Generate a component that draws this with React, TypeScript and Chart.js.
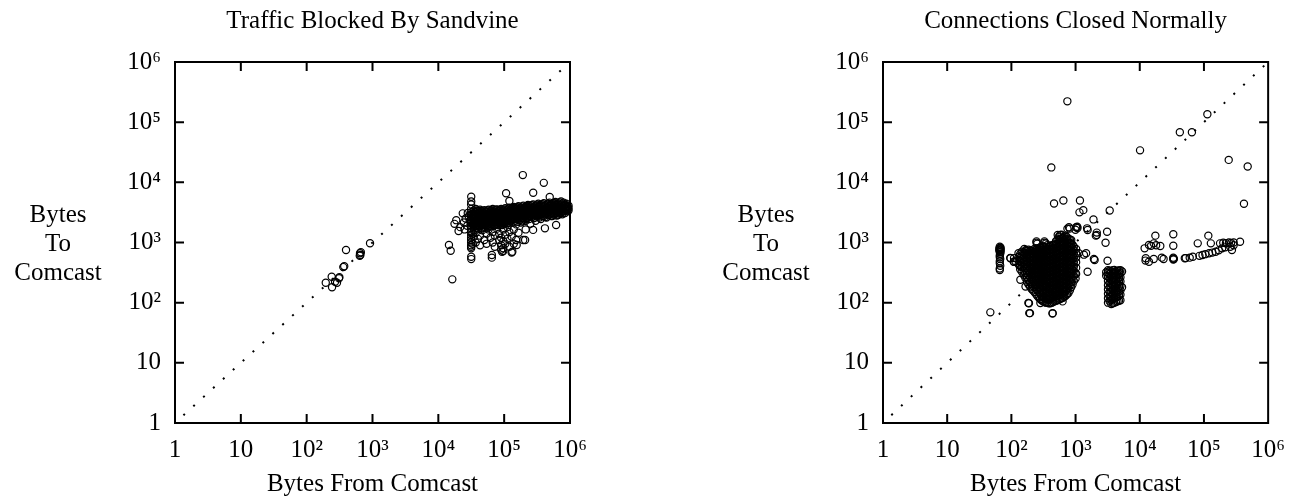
import React, { useEffect, useRef } from 'react';
import { Chart, registerables } from 'chart.js';

Chart.register(...registerables);

// ---------- text ----------
const blockedTitle = 'Traffic Blocked By Sandvine';
const closedTitle = 'Connections Closed Normally';
const xAxisTitle = 'Bytes From Comcast';
const yAxisTitleLines = ['Bytes', 'To', 'Comcast'];

// ---------- axes ----------
const tickValues = [1, 10, 100, 1000, 10000, 100000, 1000000];
const tickLabels = ['1', '10', '10²', '10³', '10⁴', '10⁵', '10⁶'];
const innerTickValues = [10, 100, 1000, 10000, 100000];
const diagonal = [1, 1000000];

type P = [number, number];
type Col = [number, number[]];

// ---------- left panel: Traffic Blocked By Sandvine ----------
const blockedNearDiagonal: P[] = [
  [195, 214], [243, 180], [240, 270], [289, 214], [314, 265], [270, 223], [310, 254],
  [360, 390], [372, 402], [396, 750], [646, 661], [655, 620], [640, 600], [665, 690], [917, 970],
];

const blockedOutliers: P[] = [
  [14500, 910], [15400, 730], [16300, 244], [17600, 2040], [18700, 2350], [20300, 1550],
  [21500, 1800], [23500, 3050], [24500, 2150], [25000, 1650], [26000, 2500], [27500, 1900],
  [28000, 3100], [29000, 2700], [30000, 2300],
  [192000, 13200], [400000, 9800], [276000, 6700], [107000, 6600], [120000, 4900],
  [492000, 5700], [31600, 5760], [31600, 4800], [155000, 910], [133000, 700], [93000, 700],
  [208000, 1100], [65000, 620], [65000, 560], [31600, 580], [31600, 530], [615000, 1950],
  [416000, 1720], [275000, 1620],
];

const blockedBandColumns: Col[] = [
  [31500, [4300, 3600, 3200, 2900, 2600, 2350, 2100, 1900, 1700, 1500, 1330, 1200, 1100, 1000, 900, 850, 800]],
  [33000, [3000, 2500, 2000, 1400, 950]],
  [34500, [3400, 3000, 2700, 2450, 2200, 2000, 1800, 1600, 1250]],
  [36000, [3250, 2850, 2550, 2250, 2050, 1850]],
  [37000, [3600, 3150, 2800, 2550, 2300, 2100, 1900, 1450, 1000]],
  [38500, [3400, 3000, 2700, 2400, 2200, 1950, 1750]],
  [40000, [3300, 2950, 2650, 2400, 2150, 1950, 1700, 1150]],
  [41500, [3150, 2800, 2550, 2300, 2100, 1900]],
  [43000, [3500, 3100, 2750, 2500, 2250, 2050, 1850, 1300, 900]],
  [45000, [3350, 2950, 2650, 2400, 2200, 2000, 1750]],
  [46500, [3250, 2900, 2600, 2350, 2150, 1950, 1600]],
  [48000, [3100, 2800, 2500, 2250, 2050, 1850]],
  [50000, [3450, 3050, 2750, 2450, 2200, 2000, 1750, 1100]],
  [52000, [3300, 2950, 2650, 2350, 2150, 1950]],
  [54000, [3200, 2850, 2550, 2300, 2100, 1900, 1400, 950]],
  [56000, [3400, 3000, 2650, 2400, 2150, 1950, 1750]],
  [58000, [3500, 3100, 2750, 2450, 2200, 2000, 1650]],
  [60000, [3150, 2800, 2500, 2300, 2050, 1900]],
  [62000, [3300, 2900, 2600, 2350, 2150, 1850, 1200]],
  [64500, [3450, 3050, 2700, 2450, 2200, 2000]],
  [67000, [3600, 3150, 2800, 2500, 2250, 2050, 1500, 1000]],
  [69500, [3250, 2900, 2600, 2350, 2150, 1900]],
  [72000, [3400, 3000, 2700, 2400, 2200, 1950, 1300, 850]],
  [75000, [3500, 3100, 2750, 2450, 2250, 2000]],
  [78000, [3550, 3100, 2800, 2500, 2300, 2050, 1700]],
  [81000, [3250, 2900, 2600, 2350, 2100, 1950]],
  [84000, [3350, 2950, 2650, 2400, 2150, 1400, 1100]],
  [87000, [3450, 3050, 2750, 2450, 2250, 2050]],
  [90000, [3600, 3200, 2850, 2550, 2300, 2000, 1200, 900, 760]],
  [93500, [3300, 2950, 2650, 2400, 2150, 1950]],
  [97000, [3400, 3050, 2700, 2450, 2200, 1650, 1050, 800, 720]],
  [100000, [3550, 3150, 2800, 2500, 2250, 2050]],
  [104000, [3700, 3250, 2900, 2600, 2350, 2100, 1350, 950]],
  [108000, [3400, 3000, 2700, 2400, 2200, 2000]],
  [112000, [3500, 3100, 2800, 2500, 2250, 1800, 1150]],
  [116000, [3650, 3250, 2900, 2600, 2350, 2100]],
  [120000, [3800, 3350, 2950, 2650, 2400, 1500, 850]],
  [125000, [3500, 3100, 2800, 2500, 2250]],
  [130000, [3600, 3200, 2850, 2550, 2350, 1250, 680]],
  [135000, [3750, 3350, 2950, 2650, 2400, 2150]],
  [140000, [3900, 3450, 3050, 2700, 2450, 1650, 950]],
  [146000, [3600, 3200, 2850, 2550, 2300]],
  [152000, [3700, 3300, 2950, 2650, 2000, 1100]],
  [158000, [3850, 3400, 3050, 2750, 2450, 2200]],
  [165000, [4000, 3550, 3150, 2800, 2500, 1450]],
  [172000, [3700, 3300, 2950, 2650, 2350]],
  [180000, [3800, 3400, 3000, 2700, 2150]],
  [187000, [3950, 3500, 3100, 2800, 2500, 2250]],
  [195000, [4100, 3600, 3200, 2850, 2550, 1100]],
  [203000, [3750, 3350, 3000, 2700, 2400]],
  [212000, [3900, 3450, 3050, 2750, 2300, 1650]],
  [221000, [4050, 3600, 3200, 2850, 2550]],
  [230000, [4200, 3700, 3300, 2950, 2600]],
  [240000, [3850, 3450, 3050, 2750, 2450]],
  [250000, [4000, 3550, 3150, 2850, 2050]],
  [262000, [4150, 3700, 3300, 2950, 2650]],
  [275000, [4300, 3800, 3400, 3000, 2700]],
  [287000, [3950, 3550, 3150, 2850, 2550]],
  [300000, [4100, 3650, 3250, 2900, 2300]],
  [315000, [4250, 3800, 3350, 3000, 2700]],
  [330000, [4400, 3900, 3450, 3100, 2800]],
  [345000, [4050, 3600, 3200, 2900, 2600]],
  [360000, [4200, 3700, 3300, 2950, 2450]],
  [380000, [4350, 3850, 3450, 3050, 2750]],
  [400000, [4500, 4000, 3550, 3150, 2750]],
  [420000, [4150, 3700, 3300, 2950, 2650]],
  [440000, [4300, 3800, 3400, 3050, 2600]],
  [465000, [4450, 3950, 3550, 3150, 2850]],
  [490000, [4600, 4100, 3650, 3250, 2900]],
  [515000, [4250, 3800, 3400, 3000, 2750]],
  [540000, [4400, 3900, 3500, 3100, 2750]],
  [570000, [4550, 4050, 3650, 3250, 2900]],
  [600000, [4700, 4200, 3750, 3350, 3000]],
  [630000, [4350, 3900, 3500, 3100, 2800]],
  [660000, [4500, 4000, 3600, 3200, 2850]],
  [695000, [4650, 4150, 3700, 3300, 3000]],
  [730000, [4800, 4300, 3850, 3450, 3100]],
  [765000, [4450, 4000, 3600, 3250, 2950]],
  [800000, [4600, 4100, 3700, 3300]],
  [840000, [4250, 3800, 3400, 3100]],
  [880000, [4400, 3900, 3500]],
  [915000, [4000, 3600, 3300]],
  [950000, [4100, 3700, 3400]],
];

// ---------- right panel: Connections Closed Normally ----------
const closedOutliers: P[] = [
  [47, 69], [745, 222000], [419, 17700], [10100, 34000], [42100, 67800], [64900, 67800],
  [113000, 135000], [243000, 23600], [480000, 18300], [420000, 4400], [462, 4450], [646, 4980],
  [1170, 4980], [1150, 3170], [1320, 3450], [3400, 3400], [1900, 2420],
  [195, 67], [190, 67], [440, 67], [437, 66], [184, 99], [283, 99], [627, 105],
];

const closedMidPoints: P[] = [
  [747, 1700], [810, 1700], [1020, 1790], [1510, 1720], [2140, 1460], [3100, 1510], [2930, 993],
  [1980, 512], [1460, 661], [1540, 327], [3150, 498], [1350, 628], [1930, 532], [2070, 1300],
  [1540, 1610], [1060, 1830], [790, 1790], [2140, 1330], [1120, 661], [1000, 309], [1000, 252],
  [527, 1330], [246, 993], [329, 993], [246, 1045], [327, 1045], [1070, 1740], [995, 1630],
];

const closedColumn: P[] = [
  [66, 850], [66, 810], [67, 770], [66, 730], [66, 690], [67, 650], [66, 610], [66, 570],
  [67, 530], [66, 490], [66, 450], [67, 410], [66, 370], [66, 350],
  [68, 820], [68, 760], [68, 700], [65, 790], [65, 740],
];

const closedLeftEdge: P[] = [
  [96, 552], [116, 486], [138, 402], [159, 780], [138, 241], [166, 186], [229, 199],
  [129, 661], [109, 479], [97, 546], [169, 750], [188, 98],
];

const closedBlobColumns: Col[] = [
  [110, [480, 550]],
  [130, [430, 500, 580]],
  [137, [360, 420, 490, 560, 640]],
  [145, [330, 390, 460, 530, 610, 700]],
  [155, [290, 340, 400, 470, 540, 610, 680]],
  [165, [260, 310, 370, 430, 500, 570, 650, 720]],
  [175, [220, 265, 310, 370, 430, 495, 560, 640, 720]],
  [185, [200, 240, 290, 340, 400, 460, 530, 610, 690, 760]],
  [195, [185, 220, 265, 315, 365, 420, 490, 560, 640, 720]],
  [205, [170, 205, 245, 290, 340, 390, 450, 520, 590, 670, 740]],
  [216, [160, 190, 230, 270, 315, 370, 430, 495, 565, 640, 720]],
  [228, [150, 180, 215, 255, 300, 350, 405, 465, 535, 610, 690, 780]],
  [240, [140, 170, 200, 240, 280, 330, 380, 440, 510, 580, 660, 750]],
  [252, [130, 160, 190, 225, 265, 310, 360, 415, 480, 550, 630, 710, 800, 950]],
  [266, [122, 150, 180, 215, 250, 295, 345, 400, 460, 530, 610, 690, 780]],
  [280, [115, 140, 170, 200, 235, 275, 320, 370, 430, 495, 570, 650, 740, 830]],
  [295, [110, 132, 160, 190, 222, 260, 300, 350, 405, 470, 540, 620, 700, 800]],
  [310, [105, 125, 150, 180, 210, 245, 285, 330, 380, 440, 505, 580, 660, 760, 870]],
  [327, [102, 120, 145, 172, 200, 235, 272, 315, 362, 420, 480, 555, 635, 730, 840]],
  [345, [100, 118, 140, 165, 195, 225, 260, 300, 345, 400, 460, 530, 610, 700, 800, 960]],
  [363, [100, 115, 135, 160, 188, 218, 250, 290, 332, 385, 442, 510, 585, 670, 770, 900]],
  [382, [98, 112, 132, 155, 180, 210, 240, 280, 320, 370, 425, 490, 560, 640, 740, 850]],
  [403, [98, 116, 136, 160, 185, 215, 248, 288, 330, 380, 435, 500, 575, 660, 760, 870]],
  [425, [100, 120, 140, 165, 190, 220, 255, 295, 340, 390, 445, 510, 590, 680, 780, 900]],
  [447, [102, 122, 145, 168, 195, 225, 260, 300, 345, 395, 452, 520, 600, 690, 790, 910]],
  [470, [105, 125, 148, 172, 200, 230, 265, 305, 350, 400, 460, 530, 610, 700, 800, 920]],
  [495, [108, 128, 150, 175, 202, 235, 270, 310, 358, 410, 470, 540, 620, 710, 815, 935, 1050]],
  [520, [110, 130, 152, 178, 205, 240, 275, 315, 365, 420, 480, 550, 630, 720, 830, 950, 1100]],
  [547, [112, 132, 156, 182, 210, 245, 282, 325, 375, 430, 495, 568, 650, 745, 855, 975, 1120, 1250]],
  [575, [115, 135, 160, 185, 215, 250, 290, 335, 385, 440, 510, 585, 670, 770, 880, 1000, 1150, 1330]],
  [605, [118, 138, 164, 190, 220, 255, 295, 340, 392, 450, 520, 598, 685, 785, 900, 1030, 1180, 1350]],
  [635, [120, 142, 168, 195, 225, 260, 300, 345, 400, 460, 530, 610, 700, 800, 920, 1050, 1200]],
  [667, [125, 148, 174, 202, 235, 272, 315, 362, 420, 482, 555, 638, 730, 835, 960, 1100, 1250]],
  [700, [130, 155, 180, 210, 245, 285, 330, 380, 440, 505, 580, 665, 760, 870, 1000, 1150, 1300]],
  [737, [138, 165, 192, 225, 262, 302, 350, 405, 468, 538, 615, 705, 805, 925, 1070, 1220]],
  [775, [145, 175, 205, 240, 280, 325, 375, 430, 495, 570, 650, 750, 860, 990, 1150]],
  [815, [160, 195, 230, 270, 315, 365, 420, 485, 555, 640, 735, 845, 980, 1120]],
  [855, [180, 220, 260, 310, 360, 420, 480, 550, 630, 720, 830, 960, 1100]],
  [897, [200, 245, 295, 345, 400, 460, 530, 610, 700, 800, 920]],
  [940, [230, 280, 340, 400, 470, 550, 640, 740, 850]],
  [1020, [300, 380, 470, 560, 660, 780]],
];

const closedSecondBlobColumns: Col[] = [
  [3000, [280, 320]],
  [3200, [100, 118, 140, 165, 195, 230, 270, 315, 345]],
  [3400, [105, 125, 150, 180, 215, 255, 300, 340]],
  [3600, [95, 110, 128, 150, 175, 205, 240, 285, 330]],
  [3800, [98, 115, 135, 160, 190, 222, 260, 305, 345]],
  [4000, [100, 120, 142, 168, 198, 235, 275, 320, 350]],
  [4250, [102, 122, 145, 172, 205, 242, 285, 330]],
  [4500, [105, 125, 148, 175, 210, 250, 295, 340]],
  [4750, [108, 130, 155, 185, 220, 258, 300, 342]],
  [5000, [110, 135, 160, 190, 225, 265, 310, 345]],
  [5300, [180, 330]],
];

const closedRightRow: P[] = [
  [11900, 800], [13900, 908], [16500, 968], [20900, 875], [17500, 1300], [33300, 1370],
  [33300, 885], [12400, 546], [13900, 479], [12300, 500], [16500, 532], [23500, 532],
  [33300, 520], [33300, 540], [33300, 560], [34000, 530], [50300, 546], [52000, 550],
  [60000, 560], [67100, 580], [80000, 968], [117000, 1300], [128000, 968], [95000, 620],
  [85000, 600], [105000, 640], [120000, 661], [135000, 680], [152000, 703], [170000, 740],
  [192000, 800], [215000, 830], [257000, 851], [290000, 900], [178000, 968], [200000, 990],
  [220000, 970], [245000, 1000], [265000, 980], [290000, 1000], [365000, 1030], [273000, 750],
  [15000, 880], [18000, 900], [22000, 560],
];

// ---------- styling ----------
const FONT = '"Liberation Serif", "Times New Roman", serif';
const FONT_SIZE = 25;
const TICK_LEN = 9;

const toXY = (p: P) => ({ x: p[0], y: p[1] });
const fromColumns = (cols: Col[]) => cols.flatMap(([x, ys]) => ys.map((y) => ({ x, y })));

const framePlugin = {
  id: 'frameAndYTitle',
  afterDatasetsDraw(chart: any) {
    const { ctx, chartArea: a, scales } = chart;
    ctx.save();
    ctx.strokeStyle = '#000';
    ctx.lineWidth = 2;
    ctx.strokeRect(a.left, a.top, a.right - a.left, a.bottom - a.top);
    ctx.beginPath();
    for (const v of innerTickValues) {
      const x = scales.x.getPixelForValue(v);
      ctx.moveTo(x, a.bottom);
      ctx.lineTo(x, a.bottom - TICK_LEN);
      ctx.moveTo(x, a.top);
      ctx.lineTo(x, a.top + TICK_LEN);
      const y = scales.y.getPixelForValue(v);
      ctx.moveTo(a.left, y);
      ctx.lineTo(a.left + TICK_LEN, y);
      ctx.moveTo(a.right, y);
      ctx.lineTo(a.right - TICK_LEN, y);
    }
    ctx.stroke();
    ctx.fillStyle = '#000';
    ctx.font = `${FONT_SIZE}px ${FONT}`;
    ctx.textAlign = 'center';
    ctx.textBaseline = 'alphabetic';
    const cx = a.left - 117;
    const cy = (a.top + a.bottom) / 2;
    yAxisTitleLines.forEach((t, i) => ctx.fillText(t, cx, cy - 20.5 + i * 29));
    ctx.restore();
  },
};

function makeConfig(title: string, points: { x: number; y: number }[], yAxisWidth: number, padRight: number): any {
  const font = { family: FONT, size: FONT_SIZE, weight: 'normal' as const };
  const label = (v: number) => {
    const i = tickValues.indexOf(v);
    return i >= 0 ? tickLabels[i] : '';
  };
  return {
    type: 'scatter',
    data: {
      datasets: [
        {
          type: 'line',
          data: diagonal.map((v) => ({ x: v, y: v })),
          borderColor: '#000',
          borderWidth: 2,
          borderDash: [2, 11.4],
          borderDashOffset: 2,
          pointRadius: 0,
          fill: false,
          tension: 0,
        },
        {
          type: 'scatter',
          data: points,
          pointStyle: 'circle',
          pointRadius: 3.6,
          pointBorderWidth: 1.2,
          pointBorderColor: '#000',
          pointBackgroundColor: 'rgba(0,0,0,0)',
          clip: false,
        },
      ],
    },
    options: {
      animation: false,
      responsive: false,
      events: [],
      layout: { padding: { left: 0, right: padRight, top: 0, bottom: 0 } },
      plugins: {
        legend: { display: false },
        tooltip: { enabled: false },
        title: {
          display: true,
          fullSize: false,
          text: title,
          color: '#000',
          font,
          padding: { top: 6, bottom: 26 },
        },
      },
      scales: {
        x: {
          type: 'logarithmic',
          position: 'bottom',
          min: 1,
          max: 1000000,
          afterBuildTicks: (s: any) => {
            s.ticks = tickValues.map((v) => ({ value: v }));
          },
          afterFit: (s: any) => {
            s.height = 76;
          },
          grid: { display: false, drawTicks: false },
          border: { display: false },
          ticks: {
            autoSkip: false,
            maxRotation: 0,
            padding: 12,
            color: '#000',
            font,
            callback: (v: number) => label(v),
          },
          title: {
            display: true,
            text: xAxisTitle,
            color: '#000',
            font,
            padding: { top: 0, bottom: 0 },
          },
        },
        y: {
          type: 'logarithmic',
          position: 'left',
          min: 1,
          max: 1000000,
          afterBuildTicks: (s: any) => {
            s.ticks = tickValues.map((v) => ({ value: v }));
          },
          afterFit: (s: any) => {
            s.width = yAxisWidth;
          },
          grid: { display: false, drawTicks: false },
          border: { display: false },
          ticks: {
            autoSkip: false,
            padding: 14,
            color: '#000',
            font,
            callback: (v: number) => label(v),
          },
        },
      },
    },
    plugins: [framePlugin],
  };
}

function Panel(props: { title: string; points: { x: number; y: number }[]; left: number; width: number; yAxisWidth: number; padRight: number }) {
  const ref = useRef<HTMLCanvasElement>(null);
  useEffect(() => {
    const chart = new Chart(
      ref.current as HTMLCanvasElement,
      makeConfig(props.title, props.points, props.yAxisWidth, props.padRight)
    );
    return () => chart.destroy();
  }, []);
  return (
    <canvas
      ref={ref}
      width={props.width}
      height={499}
      style={{ position: 'absolute', left: props.left, top: 0, width: props.width, height: 499 }}
    />
  );
}

const blockedPoints = [
  ...blockedNearDiagonal.map(toXY),
  ...blockedOutliers.map(toXY),
  ...fromColumns(blockedBandColumns),
];

const closedPoints = [
  ...closedOutliers.map(toXY),
  ...closedMidPoints.map(toXY),
  ...closedColumn.map(toXY),
  ...closedLeftEdge.map(toXY),
  ...fromColumns(closedBlobColumns),
  ...fromColumns(closedSecondBlobColumns),
  ...closedRightRow.map(toXY),
];

export default function App() {
  return (
    <div style={{ position: 'absolute', left: 0, top: 0, width: 1297, height: 499, background: '#fff' }}>
      <Panel title={blockedTitle} points={blockedPoints} left={0} width={648} yAxisWidth={175} padRight={78} />
      <Panel title={closedTitle} points={closedPoints} left={648} width={649} yAxisWidth={235} padRight={20} />
    </div>
  );
}
